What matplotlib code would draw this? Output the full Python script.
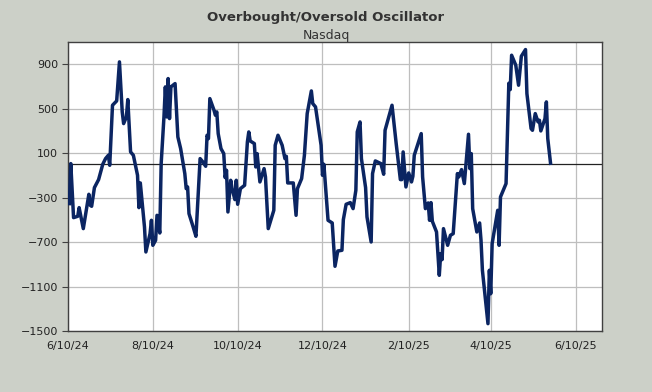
import numpy as np
import matplotlib
matplotlib.use('Agg')
import matplotlib.pyplot as plt
import matplotlib.dates as mdates

# values (vertices of the oscillator line)
dates = ['2024-06-11', '2024-06-12', '2024-06-14', '2024-06-17', '2024-06-18', '2024-06-21',
         '2024-06-25', '2024-06-26', '2024-06-27', '2024-06-29', '2024-07-02', '2024-07-05',
         '2024-07-07', '2024-07-09', '2024-07-10', '2024-07-12', '2024-07-15', '2024-07-17',
         '2024-07-19', '2024-07-20', '2024-07-22', '2024-07-23', '2024-07-25', '2024-07-27',
         '2024-07-30', '2024-07-31', '2024-08-01', '2024-08-04', '2024-08-05', '2024-08-08',
         '2024-08-09', '2024-08-10', '2024-08-12', '2024-08-13', '2024-08-15', '2024-08-16',
         '2024-08-18', '2024-08-19', '2024-08-20', '2024-08-21', '2024-08-22', '2024-08-23',
         '2024-08-26', '2024-08-28', '2024-08-30', '2024-09-02', '2024-09-03', '2024-09-04',
         '2024-09-05', '2024-09-08', '2024-09-10', '2024-09-13', '2024-09-15', '2024-09-17',
         '2024-09-18', '2024-09-19', '2024-09-20', '2024-09-23', '2024-09-24', '2024-09-25',
         '2024-09-26', '2024-09-28', '2024-09-30', '2024-10-01', '2024-10-02', '2024-10-03',
         '2024-10-05', '2024-10-06', '2024-10-08', '2024-10-09', '2024-10-10', '2024-10-12',
         '2024-10-15', '2024-10-17', '2024-10-18', '2024-10-19', '2024-10-22', '2024-10-23',
         '2024-10-24', '2024-10-26', '2024-10-29', '2024-10-30', '2024-11-01', '2024-11-05',
         '2024-11-06', '2024-11-08', '2024-11-11', '2024-11-13', '2024-11-14', '2024-11-15',
         '2024-11-19', '2024-11-21', '2024-11-22', '2024-11-25', '2024-11-27', '2024-11-29',
         '2024-12-02', '2024-12-03', '2024-12-05', '2024-12-09', '2024-12-10', '2024-12-11',
         '2024-12-14', '2024-12-17', '2024-12-19', '2024-12-21', '2024-12-24', '2024-12-25',
         '2024-12-27', '2024-12-30', '2025-01-01', '2025-01-03', '2025-01-04', '2025-01-06',
         '2025-01-07', '2025-01-10', '2025-01-11', '2025-01-14', '2025-01-15', '2025-01-17',
         '2025-01-21', '2025-01-23', '2025-01-24', '2025-01-29', '2025-02-01', '2025-02-04',
         '2025-02-05', '2025-02-06', '2025-02-08', '2025-02-10', '2025-02-12', '2025-02-13',
         '2025-02-14', '2025-02-19', '2025-02-20', '2025-02-22', '2025-02-24', '2025-02-25',
         '2025-02-26', '2025-02-27', '2025-03-02', '2025-03-03', '2025-03-04', '2025-03-05',
         '2025-03-06', '2025-03-07', '2025-03-10', '2025-03-12', '2025-03-14', '2025-03-17',
         '2025-03-18', '2025-03-20', '2025-03-22', '2025-03-25', '2025-03-26', '2025-03-27',
         '2025-03-28', '2025-03-31', '2025-04-02', '2025-04-03', '2025-04-04', '2025-04-08',
         '2025-04-09', '2025-04-10', '2025-04-11', '2025-04-15', '2025-04-16', '2025-04-17',
         '2025-04-21', '2025-04-23', '2025-04-24', '2025-04-25', '2025-04-28', '2025-04-30',
         '2025-05-02', '2025-05-05', '2025-05-06', '2025-05-09', '2025-05-10', '2025-05-12',
         '2025-05-14', '2025-05-15', '2025-05-16', '2025-05-19', '2025-05-20', '2025-05-21',
         '2025-05-23']

values = [-354, 6, -480, -468, -390, -579,
          -270, -369, -378, -210, -138, 0,
          51, 81, -9, 531, 570, 921,
          471, 366, 426, 582, 111, 81,
          -99, -390, -168, -564, -789, -624,
          -504, -729, -684, -459, -618, 6,
          426, 696, 426, 771, 411, 696,
          726, 246, 141, -84, -219, -204,
          -444, -564, -648, 51, 21, -18,
          261, 231, 591, 486, 441, 471,
          276, 141, 96, -120, -54, -429,
          -144, -219, -318, -144, -360, -219,
          -189, 201, 291, 210, 186, -24,
          96, -159, -39, -114, -579, -414,
          171, 261, 171, 51, 72, -168,
          -168, -459, -219, -129, 81, 456,
          660, 546, 516, 171, -99, 0,
          -504, -528, -918, -780, -774, -498,
          -360, -345, -399, -234, 291, 381,
          51, -210, -474, -699, -84, 30,
          6, -90, 306, 531, 186, -138,
          -138, 111, -204, -78, -159, -108,
          81, 276, -114, -399, -348, -504,
          -345, -513, -609, -804, -999, -804,
          -858, -579, -729, -639, -624, -84,
          -114, -48, -174, 270, -39, 96,
          -399, -609, -528, -684, -954, -1434,
          -954, -1164, -714, -414, -729, -294,
          -174, 729, 672, 981, 891, 711,
          972, 1032, 636, 321, 306, 456,
          381, 396, 300, 411, 561, 231,
          9]

tick_dates = ['2024-06-10', '2024-08-10', '2024-10-10', '2024-12-10',
              '2025-02-10', '2025-04-10', '2025-06-10']
tick_labels = ['6/10/24', '8/10/24', '10/10/24', '12/10/24', '2/10/25', '4/10/25', '6/10/25']
y_ticks = [-1500, -1100, -700, -300, 100, 500, 900]

bg = '#CCD0C8'
x = np.array(dates, dtype='datetime64[D]')
xt = np.array(tick_dates, dtype='datetime64[D]')

fig = plt.figure(figsize=(6.52, 3.92), dpi=100, facecolor=bg)
ax = fig.add_axes([68/652, 1-331/392, (602-68)/652, (331-42)/392])
ax.set_facecolor('white')

ax.plot(x, values, color='#0B2562', lw=2.5, solid_joinstyle='round', zorder=3)
ax.axhline(0, color='#222222', lw=0.9, zorder=2)

ax.set_xlim(np.datetime64('2024-06-10'), np.datetime64('2025-06-29'))
ax.set_ylim(-1500, 1100)
ax.set_xticks(xt)
ax.set_xticklabels(tick_labels)
ax.set_yticks(y_ticks)
ax.grid(True, color='#BEBEBE', lw=0.9, zorder=1)
ax.set_axisbelow(True)

ax.tick_params(axis='x', length=0, pad=7, labelsize=8, colors='#222222')
ax.tick_params(axis='y', length=4, width=0.8, pad=3, labelsize=8, colors='#222222')
ax.tick_params(axis='y', color='#404040')
for s in ax.spines.values():
    s.set_color('#404040')
    s.set_linewidth(1.0)

fig.text(0.5, 1-18/392, 'Overbought/Oversold Oscillator', ha='center', va='center',
         fontsize=9.5, fontweight='bold', color='#333333')
fig.text(0.5, 1-35/392, 'Nasdaq', ha='center', va='center', fontsize=9, color='#333333')

fig.savefig('out.png', dpi=100, facecolor=bg)
